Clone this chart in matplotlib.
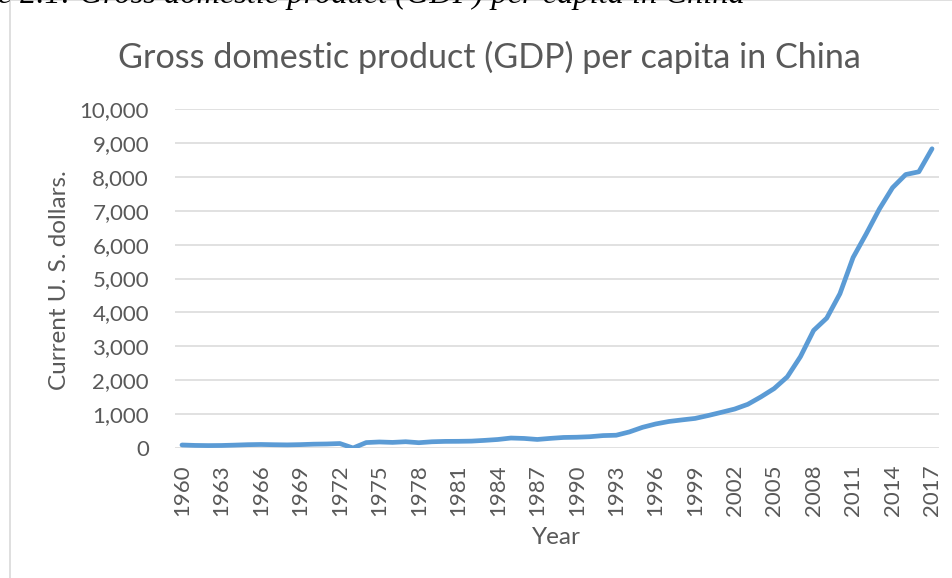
import matplotlib
matplotlib.use("Agg")
import matplotlib.pyplot as plt
from matplotlib.patches import Rectangle
import numpy as np

years = list(range(1960, 2018))
gdp_per_capita = [
    89, 76, 71, 74, 85, 98, 104, 97, 92, 100,
    113, 119, 132, 0, 160, 178, 165, 185, 156, 184,
    195, 197, 203, 225, 251, 294, 282, 252, 284, 311,
    318, 333, 366, 377, 474, 610, 709, 782, 829, 873,
    959, 1053, 1149, 1289, 1509, 1753, 2099, 2694, 3468, 3832,
    4550, 5618, 6317, 7051, 7679, 8067, 8148, 8827,
]
xtick_years = list(range(1960, 2018, 3))
ytick_values = list(range(0, 10001, 1000))

title = "Gross domestic product (GDP) per capita in China"
caption_full = "Figure 2.1: Gross domestic product (GDP) per capita in China"
caption_visible = "e 2.1: Gross domestic product (GDP) per capita in China"
y_label = "Current U. S. dollars."
x_label = "Year"

W, H = 952, 578
DPI = 100
fig = plt.figure(figsize=(W / DPI, H / DPI), dpi=DPI)

def fx(px):
    return px / W

def fy(py):
    return 1 - py / H

# frame
fig.patches.append(Rectangle((fx(9.5), fy(H + 20)), fx(W + 20), (H + 10 - 10.5) / H + 20 / H,
                             transform=fig.transFigure, fill=False,
                             edgecolor="#d9d9d9", linewidth=1.2))

gray = "#595959"
font = "Lato"
tick_fs = 16

# axes: plot area
left, right, top, bottom = 175.4, 938.6, 109, 448
ax = fig.add_axes([fx(left), fy(bottom), fx(right - left), (bottom - top) / H])
ax.plot(years, gdp_per_capita, color="#5b9bd5", linewidth=3.4,
        solid_capstyle="round", solid_joinstyle="round", zorder=3)
ax.set_xlim(1959.5, 2017.5)
ax.set_ylim(0, 10000)
ax.set_yticks(ytick_values)
ax.set_yticklabels([f"{v:,}" for v in ytick_values], fontfamily=font,
                   fontsize=tick_fs, color=gray)
ax.set_xticks(xtick_years)
ax.set_xticklabels([str(y) for y in xtick_years], rotation=90, fontfamily=font,
                   fontsize=tick_fs, color=gray, va="top", ha="center")
ax.tick_params(axis="both", length=0)
ax.tick_params(axis="y", pad=19)
ax.tick_params(axis="x", pad=12)
ax.grid(axis="y", color="#d9d9d9", linewidth=1.1, zorder=0)
for s in ax.spines.values():
    s.set_visible(False)
ax.set_axisbelow(True)

fig.text(fx(489), fy(57), title, fontfamily=font, fontsize=24.6, color=gray,
         ha="center", va="center")
fig.text(fx(59), fy(280), y_label, fontfamily=font, fontsize=17.5, color=gray,
         ha="center", va="center", rotation=90)
fig.text(fx(556), fy(538), x_label, fontfamily=font, fontsize=17.5, color=gray,
         ha="center", va="center")

# caption cut at top (as in the reference)
renderer = fig.canvas.get_renderer()
t = fig.text(0, 0, caption_visible, fontfamily="Liberation Serif", style="italic",
             fontsize=20)
w = t.get_window_extent(renderer).width
t.remove()
cap_size = 20 * 745 / w
size_px = cap_size * DPI / 72
fig.text(fx(745), fy(10 - 0.216 * size_px), caption_full, fontfamily="Liberation Serif",
         style="italic", fontsize=cap_size, color="black", ha="right", va="baseline")

fig.savefig("out.png", dpi=DPI)
